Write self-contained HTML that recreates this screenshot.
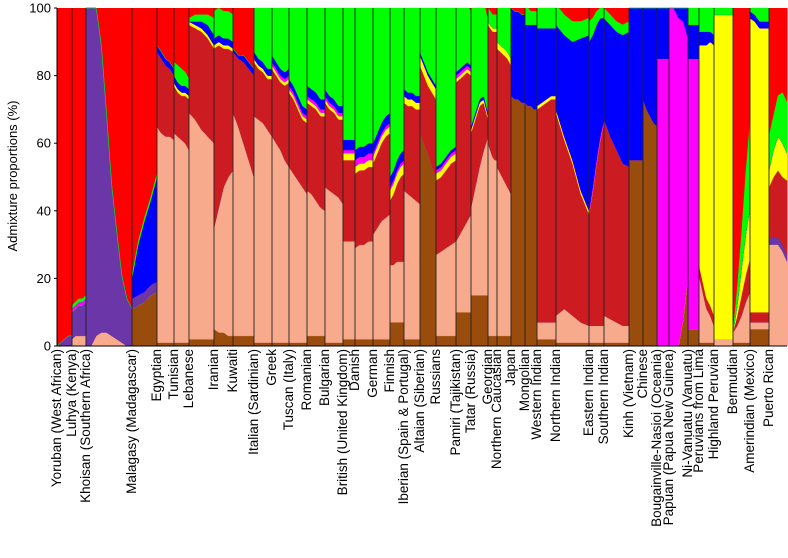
<!DOCTYPE html>
<html><head><meta charset="utf-8"><style>
body{margin:0;background:#fff;}
svg text{font-family:"Liberation Sans",Arial,sans-serif;fill:#000;}
</style></head><body>
<svg id="chart" width="788" height="553" viewBox="0 0 788 553" xmlns="http://www.w3.org/2000/svg">
<g id="bars"></g>
<g id="seps"></g>
<g id="axis"></g>
<g id="labels"></g>
<text x="17" y="176" font-size="13" text-anchor="middle" transform="rotate(-90 17 176)">Admixture proportions (%)</text>
</svg>
<script>
const populations = ["Yoruban (West African)","Luhya (Kenya)","Khoisan (Southern Africa)","Malagasy (Madagascar)","Egyptian","Tunisian","Lebanese","Iranian","Kuwaiti","Italian (Sardinian)","Greek","Tuscan (Italy)","Romanian","Bulgarian","British (United Kingdom)","Danish","German","Finnish","Iberian (Spain & Portugal)","Altaian (Siberian)","Russians","Pamiri (Tajikistan)","Tatar (Russia)","Georgian","Northern Caucasian","Japan","Mongolian","Western Indian","Northern Indian","Eastern Indian","Southern Indian","Kinh (Vietnam)","Chinese","Bougainville-Nasioi (Oceania)","Papuan (Papua New Guinea)","Ni-Vanuatu (Vanuatu)","Peruvians from Lima","Highland Peruvian","Bermudian","Amerindian (Mexico)","Puerto Rican"];
// sample sizes (relative widths) of each population block
const sampleSizes = [15,14,46,25,17,15,25,19,21,18,17,18,18,18,12,18,17,14,16,16,20,15,17,9,14,14,12,19,33,15,25,14,14,12,19,11,15,19,17,19,18];
// component proportions (%) per population; number = constant, array = profile across individuals
const brown = [0,0,0,[11,12,13,15,16],1,1,2,[5,4,4,3,3],3,1,1,1,3,1,2,2,2,7,2,[63,60,57,53,50],3,10,15,3,3,[74,73,73,72,72],[72,71,71,70,70],2,1,1,1,[55,55,55,55,55],[73,70,68,66,65],0,[0,0,0,8,21],5,1,0,1,5,0];
const salmon = [0,[2,3,3,3,3],[0,0,3,4,4,3,2,1,0,0],0,[64,62,61,61,60],[62,61,60,59,57],[67,65,62,60,58],[30,37,43,47,49],[66,62,57,52,47],[67,66,65,63,61],[61,59,57,54,52],[52,50,48,46,44],[43,42,40,38,37],[46,45,44,43,41],[29,29,29,29,29],[27,28,28,29,29],[31,33,35,36,37],[17,17,18,18,18],[44,43,42,41,40],[0,0,0,0,0],[24,25,26,27,28],[21,23,25,27,29],[26,32,38,43,47],[57,55,53,52,52],[50,48,46,44,42],0,0,[5,5,5,5,5],[8,10,8,6,5],[5,5,5,5,5],[8,7,6,5,5],0,0,0,0,0,[20,15,10,8,5],2,[3,5,8,12,15],2,[30,30,30,28,25]];
const purple = [[0,1,2,3,3],[8,8,9,9,10],[100,100,97,85,65,45,32,20,14,11],3,0,0,0,0,0,0,0,0,0,0,0,0,0,0,0,0,0,0,0,0,0,0,0,0,0,0,0,0,0,0,0,0,0,0,0,0,2];
const darkred = [0,0,0,0,[22,22,21,20,19],[14,13,13,14,15],[26,27,29,29,28],[53,48,41,38,35],[18,20,24,27,30],[16,15,15,15,17],[20,20,20,22,25],[22,22,21,20,21],[26,26,27,27,28],[25,24,24,23,25],[24,24,24,24,24],[22,22,22,22,22],[21,22,23,24,24],[19,21,23,25,26],[26,26,27,27,28],[20,20,20,22,23],[22,22,23,24,24],[47,46,45,44,41],[22,20,18,14,5],[35,36,37,38,38],[35,36,37,38,38],0,0,[63,64,65,66,66],[60,50,45,38,33],[33,40,48,55,60],[58,54,51,48,47],0,0,0,0,0,[3,3,3,3,3],0,[0,3,6,8,10],3,[15,18,20,20,22]];
const yellow = [0,0,0,0,0,1,1,1,0,1,1,1,1,1,2,2,2,3,2,3,2,1,1,1,2,0,0,1,1,0,0,0,0,0,0,0,[65,70,75,78,80],96,[0,3,8,12,15],[87,86,84,84,84],[5,8,10,10,8]];
const magenta = [0,1,0,0,0,0,0,0,0,0,1,1,1,1,1,2,1,1,0,0,1,1,0,0,0,0,0,0,0,1,0,0,0,85,[100,100,97,88,70],80,0,0,0,0,0];
const blue = [0,0,0,[6,15,21,25,31],2,2,[0,1,2,3,3],2,[1,1,2,2,2],2,2,2,3,2,3,3,3,3,2,1,1,1,1,0,0,26,[23,24,24,25,25],[23,22,21,20,20],[25,30,35,45,52],[50,45,40,35,30],[30,33,35,38,40],45,[27,30,32,34,35],15,[0,0,3,4,9],10,[4,4,4,3,3],0,0,2,0];
const green = [0,1,0,1,0,[4,5,5,4,3],[1,2,2,3,5],8,0,[14,15,16,18,19],[17,18,19,20,20],[24,25,28,31,33],[27,28,29,30,30],[26,27,28,30,31],[43,43,43,43,43],[45,44,44,43,43],[43,40,37,34,33],[54,51,48,45,45],[25,27,28,29,30],[14,17,20,22,24],[49,48,46,44,44],[20,19,18,17,16],[36,34,30,28,27],4,[10,11,12,13,15],0,[5,5,4,4,4],[6,7,8,8,9],[6,6,6,5,5],[6,5,4,3,3],[3,3,3,3,3],0,0,0,0,5,[8,8,8,8,8],2,[0,5,10,18,25],[6,7,7,7,7],[10,10,12,15,15]];
const yTicks = [0,20,40,60,80,100];
</script>
<script>
const NS="http://www.w3.org/2000/svg";
const X0=57, X1=787, Y0=346, Y100=8;
const yScale=v=>Y0-(Y0-Y100)*v/100;
const totalN=sampleSizes.reduce((a,b)=>a+b,0);
const xScale=i=>X0+(X1-X0)*i/totalN;
const comps=[["brown","#9a4c0c",brown],["salmon","#f7ab8c",salmon],["purple","#6a36a8",purple],["darkred","#cc1c22",darkred],["yellow","#ffff00",yellow],["magenta","#ff00ff",magenta],["blue","#0000ff",blue],["green","#00ff00",green]];
function val(v,t){ if(typeof v==="number") return v; const n=v.length-1; const p=t*n; const i=Math.min(Math.floor(p),n-1); const f=p-i; return v[i]*(1-f)+v[i+1]*f; }
const bars=document.getElementById('bars'), seps=document.getElementById('seps');
let cum=0;
populations.forEach((name,pi)=>{
  const xa=xScale(cum), xb=xScale(cum+sampleSizes[pi]); cum+=sampleSizes[pi];
  const g=document.createElementNS(NS,'g');
  
  
  const steps=Math.max(2,Math.round(xb-xa));
  const xs=[],stacks=[];
  for(let s=0;s<=steps;s++){
    const t=s/steps; xs.push(xa+(xb-xa)*t);
    let acc=0; const row=[0];
    comps.forEach(c=>{acc+=val(c[2][pi],t); row.push(Math.min(acc,100));});
    stacks.push(row);
  }
  const bg=document.createElementNS(NS,'rect');
  
  
  bg.setAttribute('x',xa);bg.setAttribute('y',Y100);bg.setAttribute('width',xb-xa+0.5);bg.setAttribute('height',Y0-Y100);bg.setAttribute('fill','#ff0000');
  g.appendChild(bg);
  comps.forEach((c,ci)=>{
    let top=[],bot=[];
    for(let s=0;s<=steps;s++){top.push(xs[s].toFixed(1)+","+yScale(stacks[s][ci+1]).toFixed(1));bot.push(xs[s].toFixed(1)+","+yScale(stacks[s][ci]).toFixed(1));}
    const p=document.createElementNS(NS,'polygon');
    
    
    p.setAttribute('points',top.concat(bot.reverse()).join(' '));
    p.setAttribute('fill',c[1]);p.setAttribute('stroke',c[1]);p.setAttribute('stroke-width','0.4');
    g.appendChild(p);
  });
  bars.appendChild(g);
  if(pi>0){
    const l=document.createElementNS(NS,'line');
    
    
    l.setAttribute('x1',xa);l.setAttribute('x2',xa);l.setAttribute('y1',Y100);l.setAttribute('y2',Y0);l.setAttribute('stroke','#222');l.setAttribute('stroke-width','0.9');
    seps.appendChild(l);
  }
  const tx=xa+4;
  const t=document.createElementNS(NS,'text');
  
  
  t.setAttribute('x',tx);t.setAttribute('y',349);t.setAttribute('font-size','13.5');t.setAttribute('text-anchor','end');
  t.setAttribute('transform','rotate(-90 '+tx+' 349)');
  t.textContent=name;
  document.getElementById('labels').appendChild(t);
});
const ax=document.getElementById('axis');
const al=document.createElementNS(NS,'path');


al.setAttribute('d','M'+X0+' '+Y100+'V'+Y0+'H'+X1);al.setAttribute('stroke','#000');al.setAttribute('fill','none');al.setAttribute('stroke-width','1');
ax.appendChild(al);
yTicks.forEach(v=>{
  const y=yScale(v);
  const tk=document.createElementNS(NS,'line');
  
  
  tk.setAttribute('x1',X0-3);tk.setAttribute('x2',X0);tk.setAttribute('y1',y);tk.setAttribute('y2',y);tk.setAttribute('stroke','#000');
  ax.appendChild(tk);
  const tl=document.createElementNS(NS,'text');
  
  
  tl.setAttribute('x',X0-6);tl.setAttribute('y',y+4.5);tl.setAttribute('font-size','13');tl.setAttribute('text-anchor','end');
  tl.textContent=v;
  ax.appendChild(tl);
});
</script>
</body></html>
